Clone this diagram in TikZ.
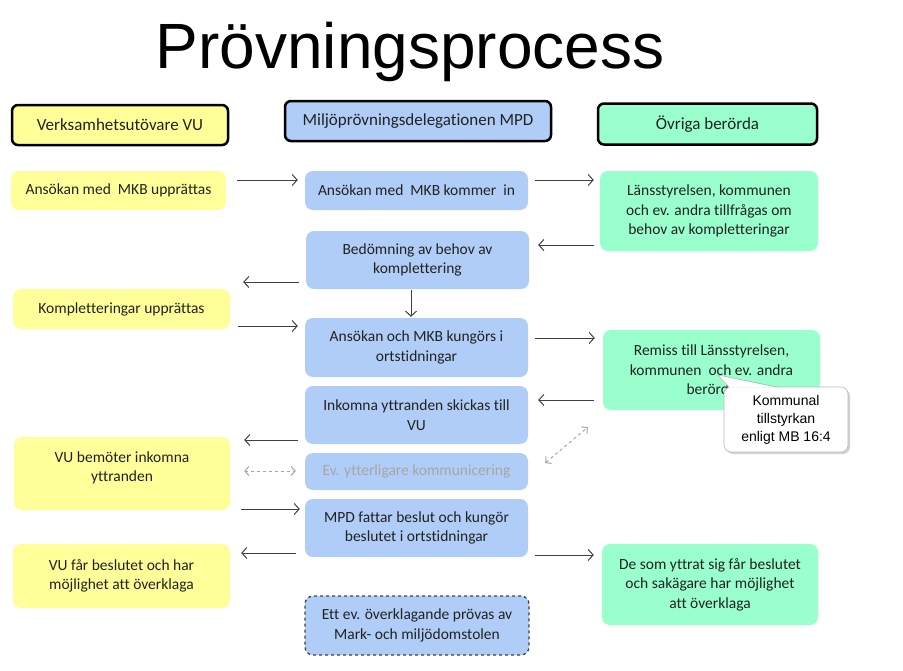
\documentclass[tikz,border=0pt]{standalone}
\usepackage{fontspec}
\setmainfont[Ligatures={NoCommon}]{Carlito}
\newfontfamily\arialf{Liberation Sans}
\usetikzlibrary{arrows.meta,shadows}
\definecolor{vuyel}{HTML}{FFFF99}
\definecolor{mpdblue}{HTML}{B0CDF7}
\definecolor{ovgreen}{HTML}{99FFCC}
\definecolor{txt}{HTML}{222222}
\definecolor{arr}{HTML}{404040}
\begin{document}
\begin{tikzpicture}[x=1pt,y=-1pt,
 box/.style={rounded corners=8pt, align=center, inner sep=2pt, text=txt, font=\fontsize{15.5}{19.5}\selectfont},
 ybox/.style={box, fill=vuyel},
 bbox/.style={box, fill=mpdblue},
 gbox/.style={box, fill=ovgreen},
 hdr/.style={rounded corners=6pt, draw=black, line width=2.5pt, font=\fontsize{17}{20}\selectfont, text=txt},
 conn/.style={draw=arr, line width=1pt, -{Straight Barb[length=5pt,width=11pt]}},
 dconn/.style={draw=gray!70, line width=1pt, dashed, {Straight Barb[length=4pt,width=9pt]}-{Straight Barb[length=4pt,width=9pt]}}
]
\useasboundingbox (0,0) rectangle (903,670);
\fill[white] (0,0) rectangle (903,670);

\node[font=\arialf\fontsize{64}{70}\selectfont, text=black, anchor=base] (title) at (410,68) {Prövningsprocess};

% headers
\node[hdr, fill=vuyel, minimum width=216, minimum height=40] (h1) at (120,125) {Verksamhetsutövare VU};
\node[hdr, fill=mpdblue, minimum width=266, minimum height=40] (h2) at (418,121) {Miljöprövningsdelegationen MPD};
\node[hdr, fill=ovgreen, minimum width=219, minimum height=41] (h3) at (707.5,124) {Övriga berörda};

% left column
\node[ybox, minimum width=215, minimum height=39] (l1) at (118.5,190.5) {Ansökan med\ \ MKB upprättas};
\node[ybox, minimum width=217, minimum height=40] (l2) at (121.5,309) {Kompletteringar upprättas};
\node[ybox, minimum width=216, minimum height=73] (l3) at (122,473.5) {VU bemöter inkomna\\yttranden\\[-5.5pt]};
\node[ybox, minimum width=217, minimum height=64] (l4) at (121.5,576) {VU får beslutet och har\\möjlighet att överklaga};

% middle column
\node[bbox, minimum width=223, minimum height=39] (m1) at (416.5,190.5) {Ansökan med\ \ MKB kommer\ \ in};
\node[bbox, minimum width=223, minimum height=58] (m2) at (417.5,260) {Bedömning av behov av\\komplettering};
\node[bbox, minimum width=223, minimum height=59] (m3) at (416.5,347.5) {Ansökan och MKB kungörs i\\ortstidningar};
\node[bbox, minimum width=223, minimum height=58] (m4) at (416.5,415) {Inkomna yttranden skickas till\\VU};
\node[bbox, minimum width=223, minimum height=37, text=gray!70] (m5) at (416.5,471.5) {Ev. ytterligare kommunicering};
\node[bbox, minimum width=223, minimum height=58] (m6) at (416.5,528) {MPD fattar beslut och kungör\\beslutet i ortstidningar};
\node[bbox, minimum width=224, minimum height=59, draw=arr, line width=1.3pt, dashed] (m7) at (417,625.5) {Ett ev. överklagande prövas av\\Mark- och miljödomstolen};

% right column
\node[gbox, minimum width=218, minimum height=80] (r1) at (709,211) {Länsstyrelsen, kommunen\\och ev. andra tillfrågas om\\behov av kompletteringar};
\node[gbox, minimum width=217, minimum height=80] (r2) at (711.5,370) {Remiss till Länsstyrelsen,\\kommunen\ \ och ev. andra\\berörda};
\node[gbox, minimum width=216, minimum height=81] (r3) at (710,584.5) {De som yttrat sig får beslutet\\och sakägare har möjlighet\\att överklaga};

% callout
\node[rounded corners=7pt, fill=white, draw=gray!55, line width=0.6pt, drop shadow={opacity=0.35, shadow xshift=2pt, shadow yshift=-2pt},
  minimum width=124, minimum height=65, align=center, font=\arialf\fontsize{14}{18}\selectfont, text=black] (co) at (786,419.5) {Kommunal\\tillstyrkan\\enligt MB 16:4};
\coordinate (cotip) at (718,375);
\fill[white] ([shift={(-57,1)}]co.north) -- (cotip) -- ([shift={(-9,1)}]co.north) -- cycle;
\draw[gray!55, line width=0.6pt] ([shift={(-57,0.3)}]co.north) -- (cotip) -- ([shift={(-9,0.3)}]co.north);

% connectors
\draw[conn] ([shift={(11,-10.5)}]l1.east) -- ([shift={(-7,-10.5)}]m1.west);
\draw[conn] ([shift={(7,-10.5)}]m1.east) -- ([shift={(-6,-31)}]r1.west);
\draw[conn] ([shift={(-6,34)}]r1.west) -- ([shift={(9,-15)}]m2.east);
\draw[conn] ([shift={(-7,22)}]m2.west) -- ([shift={(13,-27)}]l2.east);
\draw[conn] ([shift={(-6.5,1)}]m2.south) -- ([shift={(-5.5,-1)}]m3.north);
\draw[conn] ([shift={(8,17)}]l2.east) -- ([shift={(-7,-21.5)}]m3.west);
\draw[conn] ([shift={(7,-9.5)}]m3.east) -- ([shift={(-8,-32)}]r2.west);
\draw[conn] ([shift={(-9,30)}]r2.west) -- ([shift={(10,-15)}]m4.east);
\draw[conn] ([shift={(-7,25)}]m4.west) -- ([shift={(14,-33.5)}]l3.east);
\draw[dconn] ([shift={(14,-2.5)}]l3.east) -- ([shift={(-9,-0.5)}]m5.west);
\draw[dconn] ([shift={(17,-8.5)}]m5.east) -- ([shift={(-15,17)}]r2.south west);
\draw[conn] ([shift={(11,35.5)}]l3.east) -- ([shift={(-5,-19)}]m6.west);
\draw[conn] ([shift={(-9,25)}]m6.west) -- ([shift={(11,-23)}]l4.east);
\draw[conn] ([shift={(7,27)}]m6.east) -- ([shift={(-8,-29.5)}]r3.west);
\end{tikzpicture}
\end{document}
